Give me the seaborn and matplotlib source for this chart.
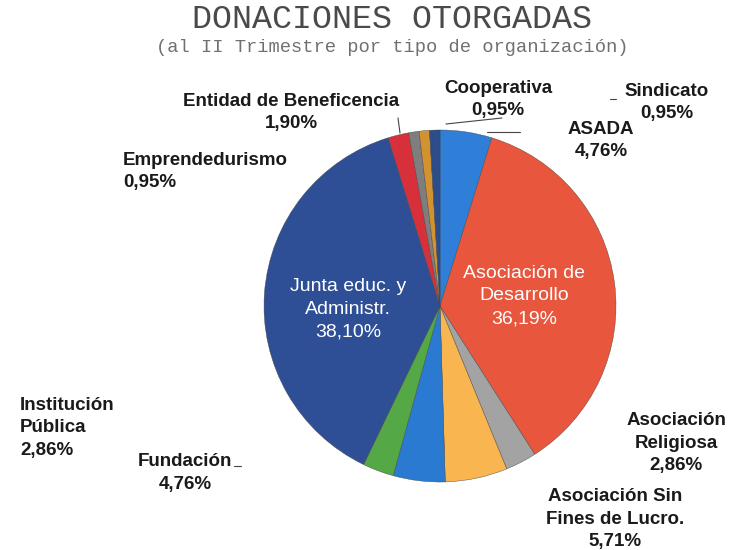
import numpy as np
import matplotlib
matplotlib.use("Agg")
import matplotlib.pyplot as plt
import seaborn as sns

# slices, clockwise from 12 o'clock
categories = ["ASADA", "Asociación de\nDesarrollo", "Asociación\nReligiosa",
              "Asociación Sin\nFines de Lucro.", "Fundación", "Institución\nPública",
              "Junta educ. y\nAdministr.", "Entidad de Beneficencia", "Emprendedurismo",
              "Cooperativa", "Sindicato"]
percent = [4.76, 36.19, 2.86, 5.71, 4.76, 2.86, 38.10, 1.90, 0.95, 0.95, 0.95]
slice_colors = ["#2F7ED8", "#E8563D", "#A3A3A3", "#F8B550", "#2B7AD2", "#54A846",
                "#2E4F96", "#D8303A", "#7E7E7E", "#D39230", "#2C4C8A"]

title = "DONACIONES OTORGADAS"
subtitle = "(al II Trimestre por tipo de organización)"

# label placement in pixels (x, y from top), alignment, inside (white) or not
label_pos = [(601, 140.5, "center"), (524, 296, "center"), (676, 443, "center"),
             (615, 519, "center"), (185, 473, "center"), (20, 428, "left"),
             (348, 309, "center"), (291, 112.5, "center"), (123, 171.5, "left"),
             (498, 99.5, "center"), (667, 102.5, "center")]
inside = [False, True, False, False, False, False, True, False, False, False, False]

W, H = 735, 550
sns.set_theme(style="white")
plt.rcParams["font.family"] = ["Liberation Sans", "DejaVu Sans"]

fig = plt.figure(figsize=(W / 100, H / 100), dpi=100)
fig.patch.set_facecolor("white")


def fx(x):
    return x / W


def fy(y):
    return 1 - y / H


cx, cy, r = 440, 306, 176
ax = fig.add_axes([fx(cx - r), fy(cy + r), 2 * r / W, 2 * r / H])
ax.pie(percent, colors=slice_colors, startangle=90, counterclock=False,
       radius=1, wedgeprops=dict(linewidth=0.3, edgecolor="#444444"))
ax.set_xlim(-1, 1)
ax.set_ylim(-1, 1)
ax.set_aspect("equal")
ax.axis("off")

for name, val, (x, y, ha), ins in zip(categories, percent, label_pos, inside):
    txt = name + "\n" + f"{val:.2f}".replace(".", ",") + "%"
    if ins:
        fig.text(fx(x), fy(y), txt, ha=ha, va="center", multialignment=ha,
                 color="white", fontsize=14, linespacing=1.45)
    else:
        fig.text(fx(x), fy(y), txt, ha=ha, va="center", multialignment=ha,
                 color="#1a1a1a", fontsize=13.5, fontweight="bold", linespacing=1.42)

# small leader lines near the top
for (x0, y0), (x1, y1) in [((398, 118), (400, 133)), ((446, 124), (502, 118)),
                            ((487, 132), (520, 132)), ((610, 99), (616, 99)),
                            ((234, 466), (241, 466))]:
    fig.add_artist(plt.Line2D([fx(x0), fx(x1)], [fy(y0), fy(y1)],
                              color="#444444", lw=0.8))

fig.text(fx(392), fy(19), title, ha="center", va="center",
         family="Liberation Mono", fontsize=24, color="#4a4a4a")
fig.text(fx(392), fy(47), subtitle, ha="center", va="center",
         family="Liberation Mono", fontsize=13.5, color="#707070")

fig.savefig("out.png", dpi=100, facecolor="white")
